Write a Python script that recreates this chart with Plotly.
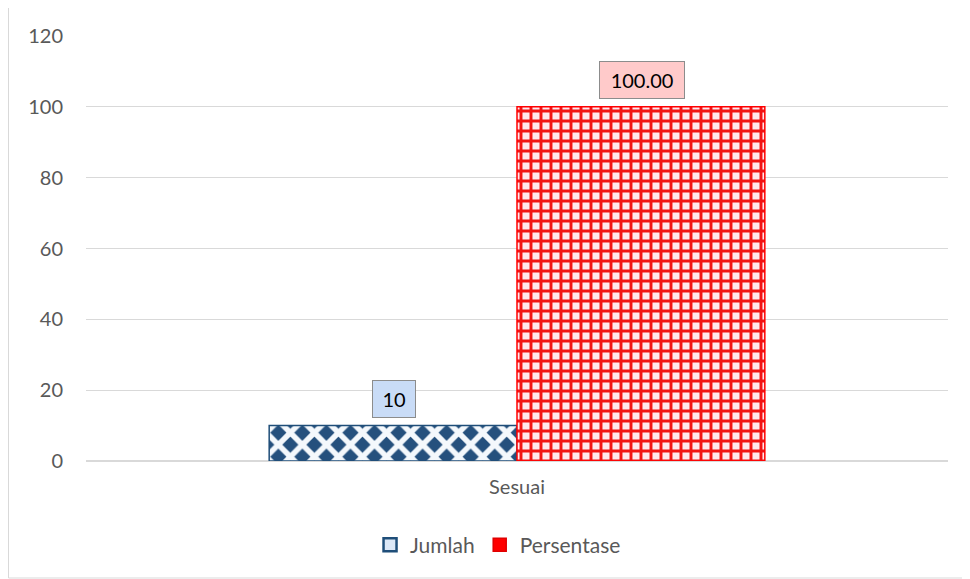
import plotly.graph_objects as go

categories = ["Sesuai"]
jumlah = [10]
persentase = [100.00]
jumlah_labels = ["10"]
persentase_labels = ["100.00"]
y_ticks = [0, 20, 40, 60, 80, 100, 120]

FONT = "Lato, 'Open Sans', sans-serif"
GRAY = "#595959"
BLUE = "#1f4e79"
RED = "#ff0000"

fig = go.Figure()
fig.add_trace(go.Bar(
    name="Jumlah", x=categories, y=jumlah, showlegend=False,
    marker=dict(color="white", line=dict(color=BLUE, width=1.5),
                pattern=dict(shape="x", fgcolor="#f4f8fc", bgcolor="#25507d",
                             size=17, solidity=0.55, fillmode="replace")),
))
fig.add_trace(go.Bar(
    name="Persentase", x=categories, y=persentase, showlegend=False,
    marker=dict(color="white", line=dict(color=RED, width=1.5),
                pattern=dict(shape="+", fgcolor="#f21414", bgcolor="#ffe8ee",
                             size=10, solidity=0.5, fillmode="replace")),
))
# legend swatches
fig.add_trace(go.Scatter(name="Jumlah", x=[None], y=[None], mode="markers",
                         marker=dict(symbol="square", size=13, color="#dce8f7",
                                     line=dict(color=BLUE, width=2.5))))
fig.add_trace(go.Scatter(name="Persentase", x=[None], y=[None], mode="markers",
                         marker=dict(symbol="square", size=13, color=RED,
                                     line=dict(color="#e00000", width=1.5))))

annots = []
for lab, val, shift, bg, w in [
    (jumlah_labels[0], jumlah[0], -123, "#c9dcf7", 36),
    (persentase_labels[0], persentase[0], 125, "#ffcaca", 78),
]:
    annots.append(dict(
        x=categories[0], y=val, xref="x", yref="y", text=lab, showarrow=False,
        xshift=shift, yshift=8, yanchor="bottom", width=w, height=30,
        font=dict(family=FONT, size=20, color="#000000"),
        bgcolor=bg, bordercolor="#8c8c8c", borderwidth=1, borderpad=3,
    ))

fig.update_layout(
    width=962, height=571,
    margin=dict(l=78, r=22, t=28, b=118),
    paper_bgcolor="white", plot_bgcolor="white",
    barmode="group", bargap=0.425, bargroupgap=0,
    font=dict(family=FONT, size=20, color=GRAY),
    showlegend=True,
    legend=dict(orientation="h", x=0.478, xanchor="center", y=-0.198, yanchor="middle",
                font=dict(family=FONT, size=21, color=GRAY), itemwidth=30,
                traceorder="normal"),
    annotations=annots,
    shapes=[dict(type="rect", xref="paper", yref="paper",
                 x0=0.5 / 862 - 78 / 862, x1=(960 - 78) / 862,
                 y0=(453 - 570) / 425, y1=(453 + 0.5) / 425,
                 line=dict(color="#d9d9d9", width=1), fillcolor="rgba(0,0,0,0)", layer="below")],
)
fig.update_yaxes(range=[0, 120], tickvals=y_ticks, showgrid=True, gridcolor="#d9d9d9",
                 gridwidth=1, zeroline=True, zerolinecolor="#d9d9d9", showline=False,
                 ticks="", ticklabelstandoff=22, tickfont=dict(size=20, color=GRAY))
fig.update_xaxes(showline=False, ticks="", ticklabelstandoff=12,
                 tickfont=dict(size=20, color=GRAY))

fig.write_html("out.html")
